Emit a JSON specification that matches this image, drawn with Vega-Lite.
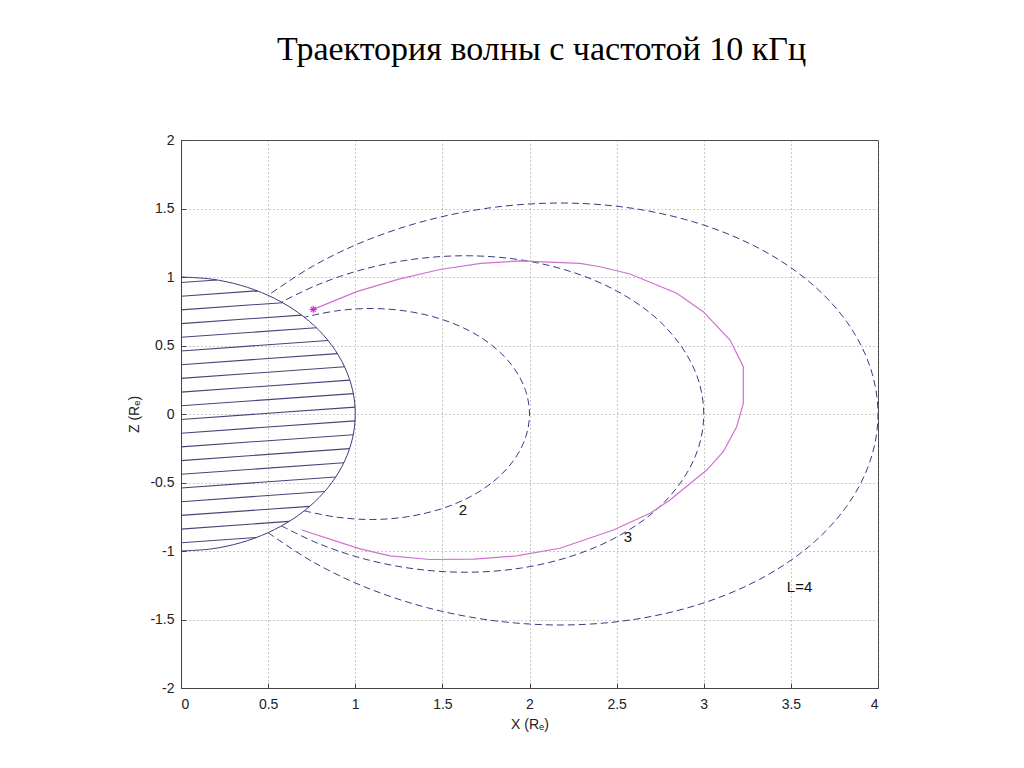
{
  "$schema": "https://vega.github.io/schema/vega-lite/v6.json",
  "width": 697,
  "height": 548,
  "autosize": "none",
  "padding": {"left": 181, "top": 140, "right": 146, "bottom": 80},
  "background": "white",
  "title": {
    "text": "Траектория волны с частотой 10 кГц",
    "font": "Liberation Serif",
    "fontSize": 34,
    "fontWeight": "normal",
    "color": "#000000",
    "anchor": "middle",
    "offset": 66,
    "dx": 12
  },
  "config": {
    "view": {"stroke": "#444444", "strokeWidth": 1},
    "axis": {
      "labelFont": "Liberation Sans",
      "labelFontSize": 14,
      "labelColor": "#222222",
      "titleFont": "Liberation Sans",
      "titleFontSize": 14,
      "titleFontWeight": "normal",
      "titleColor": "#222222",
      "domainColor": "#444444",
      "tickColor": "#444444",
      "tickSize": -5,
      "gridColor": "#777777",
      "gridDash": [1, 3],
      "gridOpacity": 0.8
    }
  },
  "datasets": {
    "hatch": [
      {"k": 0, "x": 0, "z": 0.96}, {"k": 0, "x": 0.206, "z": 0.9785},
      {"k": 1, "x": 0, "z": 0.86}, {"k": 1, "x": 0.437, "z": 0.899},
      {"k": 2, "x": 0, "z": 0.76}, {"k": 2, "x": 0.583, "z": 0.8125},
      {"k": 3, "x": 0, "z": 0.66}, {"k": 3, "x": 0.692, "z": 0.722},
      {"k": 4, "x": 0, "z": 0.56}, {"k": 4, "x": 0.777, "z": 0.63},
      {"k": 5, "x": 0, "z": 0.46}, {"k": 5, "x": 0.844, "z": 0.536},
      {"k": 6, "x": 0, "z": 0.36}, {"k": 6, "x": 0.898, "z": 0.441},
      {"k": 7, "x": 0, "z": 0.26}, {"k": 7, "x": 0.939, "z": 0.345},
      {"k": 8, "x": 0, "z": 0.16}, {"k": 8, "x": 0.969, "z": 0.247},
      {"k": 9, "x": 0, "z": 0.06}, {"k": 9, "x": 0.989, "z": 0.149},
      {"k": 10, "x": 0, "z": -0.04}, {"k": 10, "x": 0.999, "z": 0.05},
      {"k": 11, "x": 0, "z": -0.14}, {"k": 11, "x": 0.999, "z": -0.05},
      {"k": 12, "x": 0, "z": -0.24}, {"k": 12, "x": 0.989, "z": -0.151},
      {"k": 13, "x": 0, "z": -0.34}, {"k": 13, "x": 0.968, "z": -0.253},
      {"k": 14, "x": 0, "z": -0.44}, {"k": 14, "x": 0.935, "z": -0.356},
      {"k": 15, "x": 0, "z": -0.54}, {"k": 15, "x": 0.888, "z": -0.46},
      {"k": 16, "x": 0, "z": -0.64}, {"k": 16, "x": 0.825, "z": -0.566},
      {"k": 17, "x": 0, "z": -0.74}, {"k": 17, "x": 0.739, "z": -0.674},
      {"k": 18, "x": 0, "z": -0.84}, {"k": 18, "x": 0.621, "z": -0.784},
      {"k": 19, "x": 0, "z": -0.94}, {"k": 19, "x": 0.434, "z": -0.901}
    ],
    "earth": [
      {"i": 0, "x": 0, "z": -1},
      {"i": 1, "x": 0.1736, "z": -0.9848},
      {"i": 2, "x": 0.342, "z": -0.9397},
      {"i": 3, "x": 0.5, "z": -0.866},
      {"i": 4, "x": 0.6428, "z": -0.766},
      {"i": 5, "x": 0.766, "z": -0.6428},
      {"i": 6, "x": 0.866, "z": -0.5},
      {"i": 7, "x": 0.9397, "z": -0.342},
      {"i": 8, "x": 0.9848, "z": -0.1736},
      {"i": 9, "x": 1, "z": 0},
      {"i": 10, "x": 0.9848, "z": 0.1736},
      {"i": 11, "x": 0.9397, "z": 0.342},
      {"i": 12, "x": 0.866, "z": 0.5},
      {"i": 13, "x": 0.766, "z": 0.6428},
      {"i": 14, "x": 0.6428, "z": 0.766},
      {"i": 15, "x": 0.5, "z": 0.866},
      {"i": 16, "x": 0.342, "z": 0.9397},
      {"i": 17, "x": 0.1736, "z": 0.9848},
      {"i": 18, "x": 0, "z": 1}
    ],
    "field": [
      {"L": 2, "i": 0, "x": 0.707, "z": -0.707},
      {"L": 2, "i": 1, "x": 0.899, "z": -0.754},
      {"L": 2, "i": 2, "x": 1.099, "z": -0.77},
      {"L": 2, "i": 3, "x": 1.299, "z": -0.75},
      {"L": 2, "i": 4, "x": 1.489, "z": -0.694},
      {"L": 2, "i": 5, "x": 1.66, "z": -0.604},
      {"L": 2, "i": 6, "x": 1.802, "z": -0.483},
      {"L": 2, "i": 7, "x": 1.91, "z": -0.337},
      {"L": 2, "i": 8, "x": 1.977, "z": -0.173},
      {"L": 2, "i": 9, "x": 2, "z": 0},
      {"L": 2, "i": 10, "x": 1.977, "z": 0.173},
      {"L": 2, "i": 11, "x": 1.91, "z": 0.337},
      {"L": 2, "i": 12, "x": 1.802, "z": 0.483},
      {"L": 2, "i": 13, "x": 1.66, "z": 0.604},
      {"L": 2, "i": 14, "x": 1.489, "z": 0.694},
      {"L": 2, "i": 15, "x": 1.299, "z": 0.75},
      {"L": 2, "i": 16, "x": 1.099, "z": 0.77},
      {"L": 2, "i": 17, "x": 0.899, "z": 0.754},
      {"L": 2, "i": 18, "x": 0.707, "z": 0.707},
      {"L": 3, "i": 0, "x": 0.577, "z": -0.817},
      {"L": 3, "i": 1, "x": 0.797, "z": -0.95},
      {"L": 3, "i": 2, "x": 1.061, "z": -1.061},
      {"L": 3, "i": 3, "x": 1.349, "z": -1.132},
      {"L": 3, "i": 4, "x": 1.649, "z": -1.155},
      {"L": 3, "i": 5, "x": 1.949, "z": -1.125},
      {"L": 3, "i": 6, "x": 2.233, "z": -1.041},
      {"L": 3, "i": 7, "x": 2.489, "z": -0.906},
      {"L": 3, "i": 8, "x": 2.704, "z": -0.725},
      {"L": 3, "i": 9, "x": 2.865, "z": -0.505},
      {"L": 3, "i": 10, "x": 2.966, "z": -0.26},
      {"L": 3, "i": 11, "x": 3, "z": 0},
      {"L": 3, "i": 12, "x": 2.966, "z": 0.26},
      {"L": 3, "i": 13, "x": 2.865, "z": 0.505},
      {"L": 3, "i": 14, "x": 2.704, "z": 0.725},
      {"L": 3, "i": 15, "x": 2.489, "z": 0.906},
      {"L": 3, "i": 16, "x": 2.233, "z": 1.041},
      {"L": 3, "i": 17, "x": 1.949, "z": 1.125},
      {"L": 3, "i": 18, "x": 1.649, "z": 1.155},
      {"L": 3, "i": 19, "x": 1.349, "z": 1.132},
      {"L": 3, "i": 20, "x": 1.061, "z": 1.061},
      {"L": 3, "i": 21, "x": 0.797, "z": 0.95},
      {"L": 3, "i": 22, "x": 0.577, "z": 0.817},
      {"L": 4, "i": 0, "x": 0.5, "z": -0.866},
      {"L": 4, "i": 1, "x": 0.755, "z": -1.078},
      {"L": 4, "i": 2, "x": 1.062, "z": -1.266},
      {"L": 4, "i": 3, "x": 1.414, "z": -1.414},
      {"L": 4, "i": 4, "x": 1.798, "z": -1.509},
      {"L": 4, "i": 5, "x": 2.199, "z": -1.54},
      {"L": 4, "i": 6, "x": 2.598, "z": -1.5},
      {"L": 4, "i": 7, "x": 2.978, "z": -1.388},
      {"L": 4, "i": 8, "x": 3.319, "z": -1.208},
      {"L": 4, "i": 9, "x": 3.605, "z": -0.966},
      {"L": 4, "i": 10, "x": 3.82, "z": -0.674},
      {"L": 4, "i": 11, "x": 3.954, "z": -0.346},
      {"L": 4, "i": 12, "x": 4, "z": 0},
      {"L": 4, "i": 13, "x": 3.954, "z": 0.346},
      {"L": 4, "i": 14, "x": 3.82, "z": 0.674},
      {"L": 4, "i": 15, "x": 3.605, "z": 0.966},
      {"L": 4, "i": 16, "x": 3.319, "z": 1.208},
      {"L": 4, "i": 17, "x": 2.978, "z": 1.388},
      {"L": 4, "i": 18, "x": 2.598, "z": 1.5},
      {"L": 4, "i": 19, "x": 2.199, "z": 1.54},
      {"L": 4, "i": 20, "x": 1.798, "z": 1.509},
      {"L": 4, "i": 21, "x": 1.414, "z": 1.414},
      {"L": 4, "i": 22, "x": 1.062, "z": 1.266},
      {"L": 4, "i": 23, "x": 0.755, "z": 1.078},
      {"L": 4, "i": 24, "x": 0.5, "z": 0.866}
    ],
    "ray": [
      {"i": 0, "x": 0.759, "z": 0.764},
      {"i": 1, "x": 1.008, "z": 0.893},
      {"i": 2, "x": 1.25, "z": 0.985},
      {"i": 3, "x": 1.486, "z": 1.055},
      {"i": 4, "x": 1.72, "z": 1.1},
      {"i": 5, "x": 1.945, "z": 1.117},
      {"i": 6, "x": 2.29, "z": 1.1},
      {"i": 7, "x": 2.405, "z": 1.075},
      {"i": 8, "x": 2.577, "z": 1.022},
      {"i": 9, "x": 2.845, "z": 0.881},
      {"i": 10, "x": 2.997, "z": 0.747},
      {"i": 11, "x": 3.151, "z": 0.54},
      {"i": 12, "x": 3.227, "z": 0.345},
      {"i": 13, "x": 3.227, "z": 0.078},
      {"i": 14, "x": 3.189, "z": -0.093},
      {"i": 15, "x": 3.112, "z": -0.275},
      {"i": 16, "x": 3.017, "z": -0.409},
      {"i": 17, "x": 2.806, "z": -0.628},
      {"i": 18, "x": 2.692, "z": -0.725},
      {"i": 19, "x": 2.481, "z": -0.847},
      {"i": 20, "x": 2.175, "z": -0.98},
      {"i": 21, "x": 1.926, "z": -1.036},
      {"i": 22, "x": 1.68, "z": -1.06},
      {"i": 23, "x": 1.429, "z": -1.062},
      {"i": 24, "x": 1.2, "z": -1.036},
      {"i": 25, "x": 1.027, "z": -0.985},
      {"i": 26, "x": 0.693, "z": -0.847}
    ],
    "star": [{"x": 0.759, "z": 0.764}],
    "labels": [
      {"text": "2", "x": 1.618, "z": -0.7},
      {"text": "3", "x": 2.565, "z": -0.898},
      {"text": "L=4", "x": 3.55, "z": -1.263}
    ]
  },
  "layer": [
    {
      "data": {"name": "hatch"},
      "mark": {"type": "line", "stroke": "#45457a", "strokeWidth": 1.1, "clip": true},
      "encoding": {
        "x": {
          "field": "x", "type": "quantitative",
          "scale": {"domain": [0, 4], "nice": false, "zero": false},
          "axis": {"values": [0, 0.5, 1, 1.5, 2, 2.5, 3, 3.5, 4], "labelExpr": "'' + datum.value", "title": "X (Rₑ)", "titlePadding": 6, "labelPadding": 14, "grid": true}
        },
        "y": {
          "field": "z", "type": "quantitative",
          "scale": {"domain": [-2, 2], "nice": false, "zero": false},
          "axis": {"values": [-2, -1.5, -1, -0.5, 0, 0.5, 1, 1.5, 2], "labelExpr": "'' + datum.value", "title": "Z (Rₑ)", "titlePadding": 8, "labelPadding": 12, "grid": true}
        },
        "detail": {"field": "k", "type": "nominal"},
        "order": {"field": "x", "type": "quantitative"}
      }
    },
    {
      "data": {"name": "earth"},
      "mark": {"type": "line", "stroke": "#3c3c78", "strokeWidth": 1, "interpolate": "cardinal"},
      "encoding": {
        "x": {"field": "x", "type": "quantitative"},
        "y": {"field": "z", "type": "quantitative"},
        "order": {"field": "i", "type": "quantitative"}
      }
    },
    {
      "data": {"name": "field"},
      "mark": {"type": "line", "stroke": "#3a3a84", "strokeWidth": 1, "strokeDash": [7, 4], "interpolate": "cardinal"},
      "encoding": {
        "x": {"field": "x", "type": "quantitative"},
        "y": {"field": "z", "type": "quantitative"},
        "detail": {"field": "L", "type": "nominal"},
        "order": {"field": "i", "type": "quantitative"}
      }
    },
    {
      "data": {"name": "ray"},
      "mark": {"type": "line", "stroke": "#d070d0", "strokeWidth": 1.2},
      "encoding": {
        "x": {"field": "x", "type": "quantitative"},
        "y": {"field": "z", "type": "quantitative"},
        "order": {"field": "i", "type": "quantitative"}
      }
    },
    {
      "data": {"name": "star"},
      "mark": {"type": "point", "shape": "M-1,0L1,0M0,-1L0,1M-0.7,-0.7L0.7,0.7M-0.7,0.7L0.7,-0.7", "size": 50, "filled": false, "stroke": "#cc33cc", "strokeWidth": 1.2, "opacity": 1},
      "encoding": {
        "x": {"field": "x", "type": "quantitative"},
        "y": {"field": "z", "type": "quantitative"}
      }
    },
    {
      "data": {"name": "labels"},
      "mark": {"type": "text", "font": "Liberation Sans", "fontSize": 15, "color": "#111111", "align": "center", "baseline": "middle"},
      "encoding": {
        "x": {"field": "x", "type": "quantitative"},
        "y": {"field": "z", "type": "quantitative"},
        "text": {"field": "text", "type": "nominal"}
      }
    }
  ]
}
